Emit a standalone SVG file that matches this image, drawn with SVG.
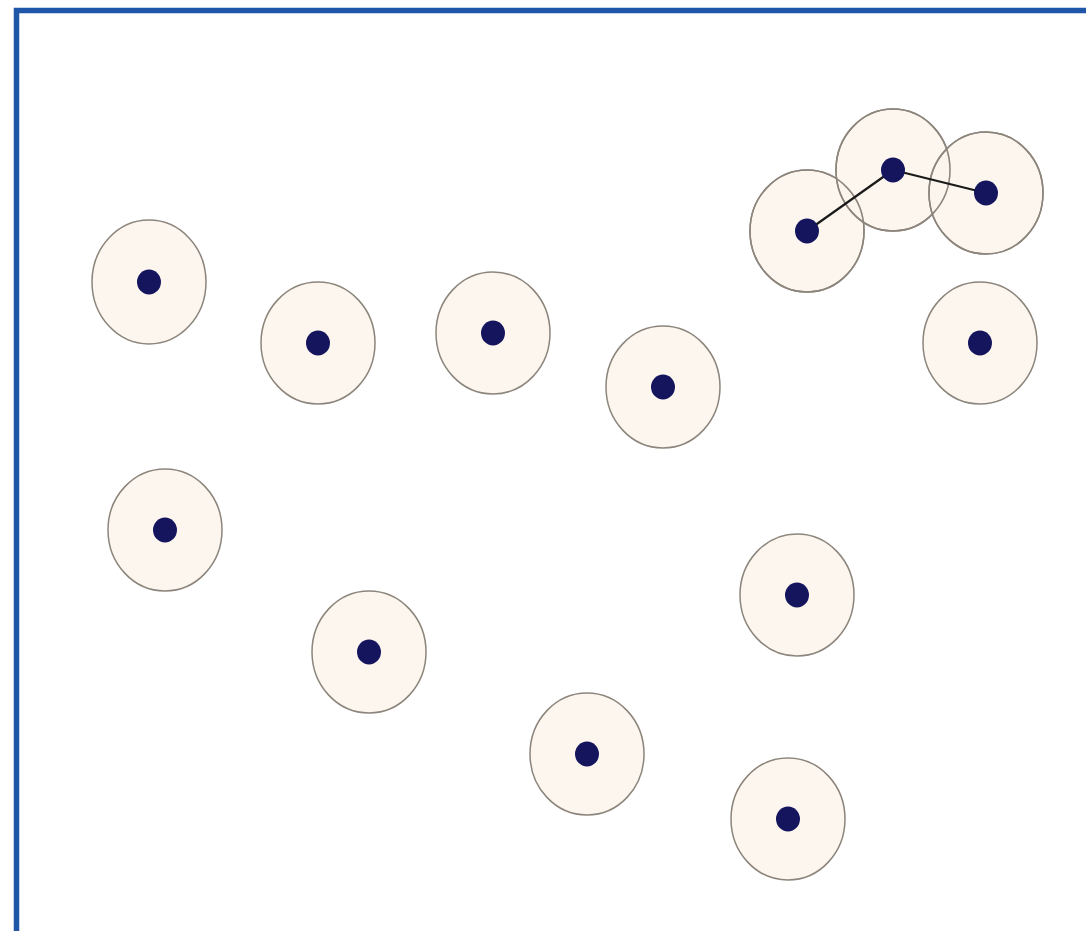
<svg xmlns="http://www.w3.org/2000/svg" width="1086" height="931" viewBox="0 0 1086 931">
<style>
.ring{fill:#fbf5ec;fill-opacity:0.85;stroke:#8c857c;stroke-width:1.5}
.dot{fill:#15155e}
.edge{stroke:#1a1a1a;stroke-width:2.2;fill:none}
.frame{fill:none;stroke:#1f56a8;stroke-width:5.5}
</style>
<rect width="1086" height="931" fill="#ffffff"/>
<path class="frame" d="M16.5,940 V10.5 H1100"/>
<g id="n1"><ellipse class="ring" cx="149" cy="282" rx="57" ry="62"/><ellipse class="dot" cx="149" cy="282" rx="12" ry="12.5"/></g>
<g id="n2"><ellipse class="ring" cx="318" cy="343" rx="57" ry="61"/><ellipse class="dot" cx="318" cy="343" rx="12" ry="12.5"/></g>
<g id="n3"><ellipse class="ring" cx="493" cy="333" rx="57" ry="61"/><ellipse class="dot" cx="493" cy="333" rx="12" ry="12.5"/></g>
<g id="n4"><ellipse class="ring" cx="663" cy="387" rx="57" ry="61"/><ellipse class="dot" cx="663" cy="387" rx="12" ry="12.5"/></g>
<g id="n8"><ellipse class="ring" cx="980" cy="343" rx="57" ry="61"/><ellipse class="dot" cx="980" cy="343" rx="12" ry="12.5"/></g>
<g id="n9"><ellipse class="ring" cx="165" cy="530" rx="57" ry="61"/><ellipse class="dot" cx="165" cy="530" rx="12" ry="12.5"/></g>
<g id="n10"><ellipse class="ring" cx="369" cy="652" rx="57" ry="61"/><ellipse class="dot" cx="369" cy="652" rx="12" ry="12.5"/></g>
<g id="n11"><ellipse class="ring" cx="797" cy="595" rx="57" ry="61"/><ellipse class="dot" cx="797" cy="595" rx="12" ry="12.5"/></g>
<g id="n12"><ellipse class="ring" cx="587" cy="754" rx="57" ry="61"/><ellipse class="dot" cx="587" cy="754" rx="12" ry="12.5"/></g>
<g id="n13"><ellipse class="ring" cx="788" cy="819" rx="57" ry="61"/><ellipse class="dot" cx="788" cy="819" rx="12" ry="12.5"/></g>
<g id="n5"><ellipse class="ring" cx="807" cy="231" rx="57" ry="61" stroke="none"/></g>
<g id="n6"><ellipse class="ring" cx="893" cy="170" rx="57" ry="61" stroke="none"/></g>
<g id="n7"><ellipse class="ring" cx="986" cy="193" rx="57" ry="61" stroke="none"/></g>
<g id="ring-outlines" fill="none" stroke="#8c857c" stroke-width="1.5">
<ellipse cx="807" cy="231" rx="57" ry="61"/>
<ellipse cx="893" cy="170" rx="57" ry="61"/>
<ellipse cx="986" cy="193" rx="57" ry="61"/>
</g>
<g id="connectors">
<line class="edge" x1="807" y1="231" x2="893" y2="170"/>
<line class="edge" x1="893" y1="170" x2="986" y2="193"/>
</g>
<g id="dots-top">
<ellipse class="dot" cx="807" cy="231" rx="12" ry="12.5"/>
<ellipse class="dot" cx="893" cy="170" rx="12" ry="12.5"/>
<ellipse class="dot" cx="986" cy="193" rx="12" ry="12.5"/>
</g>
</svg>
